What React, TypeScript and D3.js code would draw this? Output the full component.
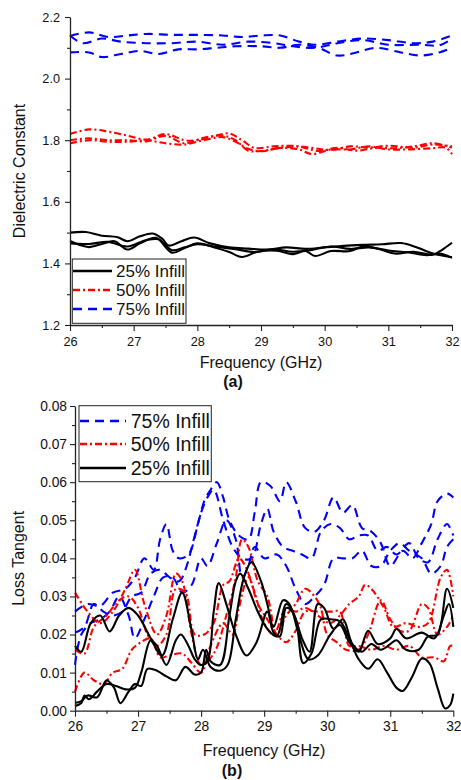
import React, { useEffect, useRef } from "react";
import * as d3 from "d3";

type Pt = [number, number];

const FONT = "'Liberation Sans', Arial, Helvetica, sans-serif";

// ---------- ticks / labels ----------
const freqTicks = [26, 27, 28, 29, 30, 31, 32];
const freqMinor = [26.5, 27.5, 28.5, 29.5, 30.5, 31.5];
const dkTicks = [1.2, 1.4, 1.6, 1.8, 2.0, 2.2];
const dkMinor = [1.3, 1.5, 1.7, 1.9, 2.1];
const tanTicks = [0, 0.01, 0.02, 0.03, 0.04, 0.05, 0.06, 0.07, 0.08];
const tanMinor = [0.005, 0.015, 0.025, 0.035, 0.045, 0.055, 0.065, 0.075];
const legendA = ["25% Infill", "50% Infill", "75% Infill"];
const legendB = ["75% Infill", "50% Infill", "25% Infill"];

// ---------- (a) Dielectric constant ----------
const dk25_1: Pt[] = [[26,1.50],[26.25,1.502],[26.5,1.49],[26.75,1.485],[26.9,1.472],[27.1,1.488],[27.3,1.497],[27.45,1.48],[27.55,1.458],[27.75,1.472],[27.95,1.484],[28.2,1.465],[28.5,1.452],[28.8,1.448],[29.1,1.445],[29.4,1.452],[29.7,1.447],[30.0,1.452],[30.3,1.457],[30.6,1.46],[30.9,1.462],[31.2,1.466],[31.45,1.452],[31.7,1.432],[32,1.42]];
const dk25_2: Pt[] = [[26,1.473],[26.15,1.46],[26.3,1.453],[26.5,1.463],[26.7,1.472],[26.9,1.445],[27.1,1.465],[27.35,1.483],[27.6,1.435],[27.8,1.45],[28.0,1.465],[28.3,1.45],[28.5,1.437],[28.7,1.421],[28.95,1.438],[29.25,1.441],[29.5,1.43],[29.7,1.44],[29.85,1.424],[30.1,1.44],[30.4,1.44],[30.6,1.455],[30.85,1.447],[31.1,1.432],[31.4,1.438],[31.7,1.428],[31.85,1.445],[32,1.467]];
const dk25_3: Pt[] = [[26,1.465],[26.3,1.463],[26.6,1.47],[26.9,1.455],[27.2,1.476],[27.4,1.478],[27.6,1.443],[27.8,1.452],[28.0,1.462],[28.3,1.454],[28.6,1.446],[28.9,1.437],[29.2,1.446],[29.5,1.438],[29.8,1.444],[30.1,1.455],[30.4,1.447],[30.7,1.452],[31.0,1.442],[31.3,1.436],[31.6,1.427],[31.8,1.432],[32,1.418]];

const dk50_1: Pt[] = [[26,1.82],[26.3,1.835],[26.6,1.828],[26.9,1.815],[27.2,1.802],[27.5,1.82],[27.8,1.80],[28.0,1.80],[28.3,1.815],[28.5,1.822],[28.7,1.80],[28.9,1.775],[29.2,1.78],[29.5,1.782],[29.8,1.775],[30.1,1.768],[30.4,1.78],[30.7,1.776],[31.0,1.782],[31.4,1.776],[31.7,1.786],[32,1.78]];
const dk50_2: Pt[] = [[26,1.80],[26.3,1.806],[26.6,1.80],[26.9,1.80],[27.2,1.796],[27.5,1.814],[27.8,1.79],[28.1,1.808],[28.4,1.815],[28.6,1.80],[28.8,1.766],[29.0,1.765],[29.3,1.775],[29.6,1.779],[29.9,1.765],[30.2,1.775],[30.5,1.766],[30.8,1.775],[31.1,1.774],[31.4,1.78],[31.7,1.79],[32,1.776]];
const dk50_3: Pt[] = [[26,1.79],[26.3,1.80],[26.6,1.795],[26.9,1.795],[27.2,1.80],[27.5,1.79],[27.8,1.786],[28.1,1.80],[28.4,1.81],[28.6,1.795],[28.8,1.772],[29.0,1.764],[29.3,1.775],[29.6,1.77],[29.8,1.755],[30.1,1.77],[30.4,1.77],[30.7,1.78],[31.0,1.77],[31.3,1.77],[31.7,1.774],[31.9,1.776],[32,1.755]];

const dk75_1: Pt[] = [[26,2.138],[26.3,2.15],[26.6,2.135],[26.9,2.14],[27.2,2.145],[27.6,2.142],[28.0,2.142],[28.4,2.14],[28.7,2.135],[29.0,2.14],[29.3,2.14],[29.6,2.12],[29.85,2.11],[30.2,2.12],[30.6,2.13],[31.0,2.125],[31.4,2.115],[31.7,2.12],[32,2.14]];
const dk75_2: Pt[] = [[26,2.14],[26.2,2.115],[26.5,2.13],[26.8,2.12],[27.2,2.115],[27.6,2.115],[28.0,2.12],[28.4,2.11],[28.8,2.12],[29.2,2.115],[29.5,2.105],[29.85,2.10],[30.2,2.115],[30.6,2.125],[31.0,2.11],[31.5,2.11],[31.8,2.108],[32,2.13]];
const dk75_3: Pt[] = [[26,2.085],[26.3,2.085],[26.5,2.07],[26.8,2.08],[27.1,2.09],[27.4,2.08],[27.7,2.095],[28.0,2.095],[28.3,2.10],[28.6,2.105],[29.0,2.105],[29.3,2.10],[29.6,2.11],[29.9,2.10],[30.2,2.075],[30.5,2.085],[30.8,2.10],[31.2,2.085],[31.5,2.075],[31.8,2.085],[32,2.10]];

// ---------- (b) Loss tangent ----------
const tan25_1: Pt[] = [[26,0.017],[26.1,0.0155],[26.25,0.023],[26.4,0.025],[26.55,0.0208],[26.7,0.025],[26.85,0.027],[27.0,0.025],[27.2,0.019],[27.38,0.0145],[27.55,0.024],[27.7,0.031],[27.85,0.021],[27.95,0.0135],[28.03,0.016],[28.15,0.0115],[28.3,0.0105],[28.42,0.012],[28.55,0.024],[28.68,0.035],[28.8,0.039],[28.95,0.034],[29.05,0.028],[29.15,0.022],[29.3,0.029],[29.4,0.028],[29.55,0.02],[29.7,0.0135],[29.85,0.0145],[30.05,0.02],[30.2,0.0225],[30.35,0.018],[30.5,0.0155],[30.65,0.021],[30.8,0.0175],[31.0,0.019],[31.1,0.0215],[31.25,0.019],[31.5,0.0205],[31.7,0.019],[31.85,0.025],[31.93,0.028],[32,0.022]];
const tan25_2: Pt[] = [[26,0.0012],[26.1,0.002],[26.15,0.004],[26.22,0.003],[26.35,0.005],[26.5,0.007],[26.65,0.0065],[26.8,0.0056],[26.95,0.006],[27.05,0.01],[27.2,0.0185],[27.3,0.017],[27.45,0.012],[27.6,0.0185],[27.68,0.02],[27.8,0.017],[27.9,0.0135],[28.0,0.012],[28.1,0.013],[28.2,0.026],[28.28,0.0335],[28.4,0.028],[28.55,0.02],[28.72,0.0145],[28.88,0.018],[29.05,0.026],[29.15,0.0205],[29.25,0.0195],[29.35,0.027],[29.45,0.026],[29.6,0.019],[29.72,0.0155],[29.85,0.028],[29.95,0.027],[30.1,0.0215],[30.25,0.024],[30.4,0.0175],[30.55,0.0155],[30.7,0.0175],[30.85,0.016],[31.0,0.0175],[31.1,0.0185],[31.25,0.016],[31.45,0.016],[31.6,0.0195],[31.75,0.02],[31.9,0.032],[32,0.027]];
const tan25_3: Pt[] = [[26,0.002],[26.1,0.0025],[26.2,0.004],[26.35,0.0035],[26.5,0.008],[26.62,0.006],[26.72,0.002],[26.85,0.005],[26.95,0.007],[27.05,0.0065],[27.15,0.011],[27.3,0.0105],[27.45,0.009],[27.6,0.008],[27.75,0.0115],[27.9,0.0095],[28.0,0.01],[28.08,0.016],[28.15,0.013],[28.3,0.012],[28.45,0.025],[28.55,0.034],[28.62,0.036],[28.75,0.032],[28.9,0.026],[29.05,0.0215],[29.2,0.0195],[29.35,0.028],[29.5,0.024],[29.62,0.0125],[29.75,0.015],[29.9,0.024],[30.05,0.024],[30.2,0.0235],[30.35,0.019],[30.5,0.0135],[30.65,0.011],[30.8,0.0135],[30.95,0.01],[31.1,0.006],[31.2,0.0052],[31.35,0.009],[31.5,0.0137],[31.62,0.0125],[31.75,0.006],[31.87,0.0006],[31.95,0.0015],[32,0.0045]];

const tan50_1: Pt[] = [[26,0.031],[26.2,0.026],[26.4,0.023],[26.6,0.026],[26.8,0.032],[26.95,0.037],[27.1,0.028],[27.3,0.02],[27.45,0.025],[27.6,0.036],[27.7,0.034],[27.85,0.02],[28.0,0.012],[28.2,0.015],[28.4,0.025],[28.55,0.035],[28.65,0.045],[28.75,0.043],[28.9,0.034],[29.05,0.03],[29.2,0.02],[29.35,0.025],[29.5,0.028],[29.65,0.032],[29.8,0.03],[29.9,0.027],[30.0,0.02],[30.15,0.018],[30.3,0.016],[30.5,0.016],[30.65,0.02],[30.85,0.029],[31.0,0.024],[31.15,0.021],[31.3,0.021],[31.5,0.028],[31.6,0.027],[31.75,0.02],[31.9,0.022],[32,0.025]];
const tan50_2: Pt[] = [[26,0.016],[26.15,0.015],[26.3,0.022],[26.5,0.025],[26.7,0.029],[26.85,0.03],[27.0,0.027],[27.15,0.02],[27.3,0.017],[27.45,0.02],[27.6,0.032],[27.75,0.031],[27.9,0.02],[28.05,0.02],[28.2,0.023],[28.35,0.033],[28.45,0.034],[28.6,0.04],[28.7,0.038],[28.85,0.031],[29.0,0.023],[29.15,0.02],[29.35,0.027],[29.5,0.026],[29.65,0.027],[29.85,0.025],[30.05,0.023],[30.2,0.025],[30.35,0.028],[30.5,0.03],[30.6,0.033],[30.7,0.032],[30.9,0.027],[31.05,0.022],[31.25,0.023],[31.45,0.022],[31.6,0.023],[31.8,0.035],[31.9,0.037],[32,0.03]];
const tan50_3: Pt[] = [[26,0.005],[26.15,0.01],[26.3,0.008],[26.45,0.007],[26.6,0.01],[26.75,0.011],[26.9,0.016],[27.05,0.018],[27.2,0.019],[27.35,0.014],[27.5,0.0145],[27.7,0.015],[27.85,0.0125],[28.0,0.01],[28.15,0.017],[28.35,0.023],[28.5,0.02],[28.6,0.027],[28.75,0.035],[28.9,0.028],[29.05,0.024],[29.2,0.02],[29.35,0.018],[29.5,0.021],[29.65,0.026],[29.85,0.026],[30.05,0.026],[30.2,0.026],[30.35,0.017],[30.5,0.017],[30.7,0.016],[30.9,0.017],[31.1,0.016],[31.3,0.017],[31.5,0.014],[31.7,0.014],[31.85,0.013],[31.95,0.017],[32,0.017]];

const tan75_1: Pt[] = [[26,0.026],[26.2,0.028],[26.4,0.0275],[26.6,0.031],[26.8,0.032],[26.95,0.035],[27.1,0.04],[27.25,0.037],[27.35,0.045],[27.45,0.049],[27.55,0.042],[27.65,0.04],[27.8,0.041],[27.95,0.049],[28.05,0.055],[28.15,0.058],[28.25,0.06],[28.35,0.056],[28.45,0.05],[28.6,0.046],[28.75,0.045],[28.85,0.052],[28.95,0.06],[29.1,0.059],[29.25,0.055],[29.35,0.06],[29.5,0.055],[29.65,0.048],[29.8,0.047],[29.95,0.05],[30.1,0.056],[30.25,0.052],[30.4,0.054],[30.55,0.048],[30.7,0.047],[30.85,0.044],[31.0,0.038],[31.2,0.042],[31.35,0.04],[31.5,0.044],[31.65,0.049],[31.75,0.055],[31.9,0.057],[32,0.056]];
const tan75_2: Pt[] = [[26,0.0205],[26.15,0.022],[26.3,0.028],[26.45,0.026],[26.6,0.025],[26.75,0.026],[26.9,0.03],[27.05,0.031],[27.2,0.036],[27.35,0.037],[27.5,0.035],[27.65,0.034],[27.75,0.037],[27.9,0.046],[28.0,0.052],[28.1,0.056],[28.2,0.058],[28.35,0.05],[28.5,0.043],[28.65,0.04],[28.8,0.04],[28.95,0.049],[29.05,0.053],[29.15,0.047],[29.3,0.043],[29.45,0.042],[29.6,0.041],[29.75,0.04],[29.9,0.047],[30.05,0.049],[30.2,0.048],[30.35,0.045],[30.5,0.046],[30.65,0.046],[30.8,0.042],[30.95,0.043],[31.1,0.041],[31.3,0.044],[31.45,0.04],[31.6,0.039],[31.75,0.045],[31.9,0.049],[32,0.046]];
const tan75_3: Pt[] = [[26,0.012],[26.1,0.02],[26.25,0.023],[26.4,0.024],[26.55,0.026],[26.7,0.03],[26.85,0.025],[26.95,0.019],[27.1,0.024],[27.25,0.03],[27.4,0.035],[27.55,0.035],[27.7,0.031],[27.85,0.033],[28.0,0.04],[28.1,0.038],[28.25,0.044],[28.4,0.05],[28.55,0.045],[28.65,0.035],[28.75,0.038],[28.85,0.043],[29.0,0.04],[29.2,0.041],[29.35,0.038],[29.5,0.032],[29.65,0.028],[29.8,0.03],[29.95,0.033],[30.1,0.04],[30.25,0.04],[30.4,0.04],[30.55,0.042],[30.7,0.038],[30.85,0.038],[31.0,0.042],[31.15,0.044],[31.3,0.042],[31.5,0.04],[31.65,0.036],[31.8,0.038],[31.9,0.043],[32,0.045]];

const STYLE = {
  s25: { color: "#000000", dash: null as string | null, width: 2.1 },
  s50: { color: "#ff0000", dash: "7,3,2,3", width: 2.1 },
  s75: { color: "#0000ff", dash: "9,6", width: 2.1 },
};

type Series = { data: Pt[]; style: { color: string; dash: string | null; width: number } };

type PanelCfg = {
  left: number; right: number; top: number; bottom: number;
  yDomain: [number, number];
  yTicks: number[]; yMinor: number[]; yFmt: string;
  tickFont: number; xPad: number; yPad: number;
  yTitle: string; yTitleX: number;
  xTitleY: number; xTitleX: number;
  tag: string; tagY: number; tagX: number;
  series: Series[];
  legend: { x: number; y: number; w: number; h: number; rows: number[]; labels: string[]; styles: Series["style"][]; sx0: number; sx1: number; tx: number; font: number };
};

function drawPanel(svg: d3.Selection<SVGSVGElement, unknown, null, undefined>, c: PanelCfg) {
  const x = d3.scaleLinear().domain([26, 32]).range([c.left, c.right]);
  const y = d3.scaleLinear().domain(c.yDomain).range([c.bottom, c.top]);
  const g = svg.append("g");

  const line = d3.line<Pt>().x((d) => x(d[0])).y((d) => y(d[1])).curve(d3.curveCatmullRom.alpha(0.5));
  c.series.forEach((s) => {
    const p = g.append("path").attr("d", line(s.data) as string)
      .attr("fill", "none").attr("stroke", s.style.color)
      .attr("stroke-width", s.style.width).attr("stroke-linejoin", "round");
    if (s.style.dash) p.attr("stroke-dasharray", s.style.dash);
  });

  // axes
  const ax = g.append("g").attr("transform", `translate(0,${c.bottom})`)
    .call(d3.axisBottom(x).tickValues(freqTicks).tickSize(6).tickSizeOuter(0).tickPadding(c.xPad).tickFormat(d3.format("d")));
  g.append("g").attr("transform", `translate(0,${c.bottom})`)
    .call(d3.axisBottom(x).tickValues(freqMinor).tickSize(3).tickSizeOuter(0).tickFormat(() => ""))
    .select(".domain").remove();
  const ay = g.append("g").attr("transform", `translate(${c.left},0)`)
    .call(d3.axisLeft(y).tickValues(c.yTicks).tickSize(5).tickSizeOuter(0).tickPadding(c.yPad).tickFormat(d3.format(c.yFmt)));
  g.append("g").attr("transform", `translate(${c.left},0)`)
    .call(d3.axisLeft(y).tickValues(c.yMinor).tickSize(3).tickSizeOuter(0).tickFormat(() => ""))
    .select(".domain").remove();
  g.selectAll(".domain").attr("stroke", "#222").attr("stroke-width", 1.3);
  g.selectAll(".tick line").attr("stroke", "#222").attr("stroke-width", 1.1);
  [ax, ay].forEach((a) => a.selectAll("text").attr("font-family", FONT).attr("font-size", c.tickFont).attr("fill", "#111"));

  // titles
  g.append("text").attr("x", c.xTitleX).attr("y", c.xTitleY).attr("text-anchor", "middle")
    .attr("font-family", FONT).attr("font-size", 16).attr("fill", "#111").text("Frequency (GHz)");
  g.append("text").attr("transform", `translate(${c.yTitleX},${(c.top + c.bottom) / 2}) rotate(-90)`)
    .attr("text-anchor", "middle").attr("font-family", FONT).attr("font-size", 16).attr("fill", "#111").text(c.yTitle);
  g.append("text").attr("x", c.tagX).attr("y", c.tagY).attr("text-anchor", "middle")
    .attr("font-family", FONT).attr("font-size", 16).attr("font-weight", "bold").attr("fill", "#111").text(c.tag);

  // legend
  const L = c.legend;
  g.append("rect").attr("x", L.x).attr("y", L.y).attr("width", L.w).attr("height", L.h)
    .attr("fill", "#fff").attr("stroke", "#222").attr("stroke-width", 1);
  L.labels.forEach((lab, i) => {
    const st = L.styles[i];
    const yy = L.rows[i];
    const p = g.append("line").attr("x1", L.sx0).attr("x2", L.sx1).attr("y1", yy).attr("y2", yy)
      .attr("stroke", st.color).attr("stroke-width", st.width + 0.3);
    if (st.dash) p.attr("stroke-dasharray", st.dash);
    g.append("text").attr("x", L.tx).attr("y", yy + L.font * 0.36).attr("font-family", FONT)
      .attr("font-size", L.font).attr("fill", "#111").text(lab);
  });
}

export default function App() {
  const ref = useRef<SVGSVGElement | null>(null);
  useEffect(() => {
    if (!ref.current) return;
    const svg = d3.select(ref.current);
    svg.selectAll("*").remove();

    drawPanel(svg, {
      left: 70, right: 452, top: 17, bottom: 325,
      yDomain: [1.2, 2.2], yTicks: dkTicks, yMinor: dkMinor, yFmt: ".1f",
      tickFont: 12.7, xPad: 6, yPad: 5,
      yTitle: "Dielectric Constant", yTitleX: 25,
      xTitleY: 368, xTitleX: 261,
      tag: "(a)", tagY: 387, tagX: 233,
      series: [
        { data: dk75_1, style: STYLE.s75 }, { data: dk75_2, style: STYLE.s75 }, { data: dk75_3, style: STYLE.s75 },
        { data: dk50_1, style: STYLE.s50 }, { data: dk50_2, style: STYLE.s50 }, { data: dk50_3, style: STYLE.s50 },
        { data: dk25_1, style: STYLE.s25 }, { data: dk25_2, style: STYLE.s25 }, { data: dk25_3, style: STYLE.s25 },
      ],
      legend: { x: 72.3, y: 259, w: 113.7, h: 64.3, rows: [271, 290, 309], labels: legendA,
        styles: [STYLE.s25, STYLE.s50, STYLE.s75], sx0: 73, sx1: 112, tx: 116, font: 17 },
    });

    drawPanel(svg, {
      left: 75, right: 453.3, top: 406, bottom: 710.7,
      yDomain: [0, 0.08], yTicks: tanTicks, yMinor: tanMinor, yFmt: ".2f",
      tickFont: 13.8, xPad: 5, yPad: 3,
      yTitle: "Loss Tangent", yTitleX: 24,
      xTitleY: 756, xTitleX: 264,
      tag: "(b)", tagY: 775.5, tagX: 232,
      series: [
        { data: tan75_1, style: STYLE.s75 }, { data: tan75_2, style: STYLE.s75 }, { data: tan75_3, style: STYLE.s75 },
        { data: tan50_1, style: STYLE.s50 }, { data: tan50_2, style: STYLE.s50 }, { data: tan50_3, style: STYLE.s50 },
        { data: tan25_1, style: STYLE.s25 }, { data: tan25_2, style: STYLE.s25 }, { data: tan25_3, style: STYLE.s25 },
      ],
      legend: { x: 79, y: 405.7, w: 132.3, h: 76, rows: [421, 444, 468], labels: legendB,
        styles: [STYLE.s75, STYLE.s50, STYLE.s25], sx0: 80, sx1: 126, tx: 130.7, font: 19.5 },
    });
  }, []);

  return (
    <svg ref={ref} width={461} height={780}
      style={{ position: "absolute", left: 0, top: 0, background: "#fff", display: "block" }} />
  );
}
